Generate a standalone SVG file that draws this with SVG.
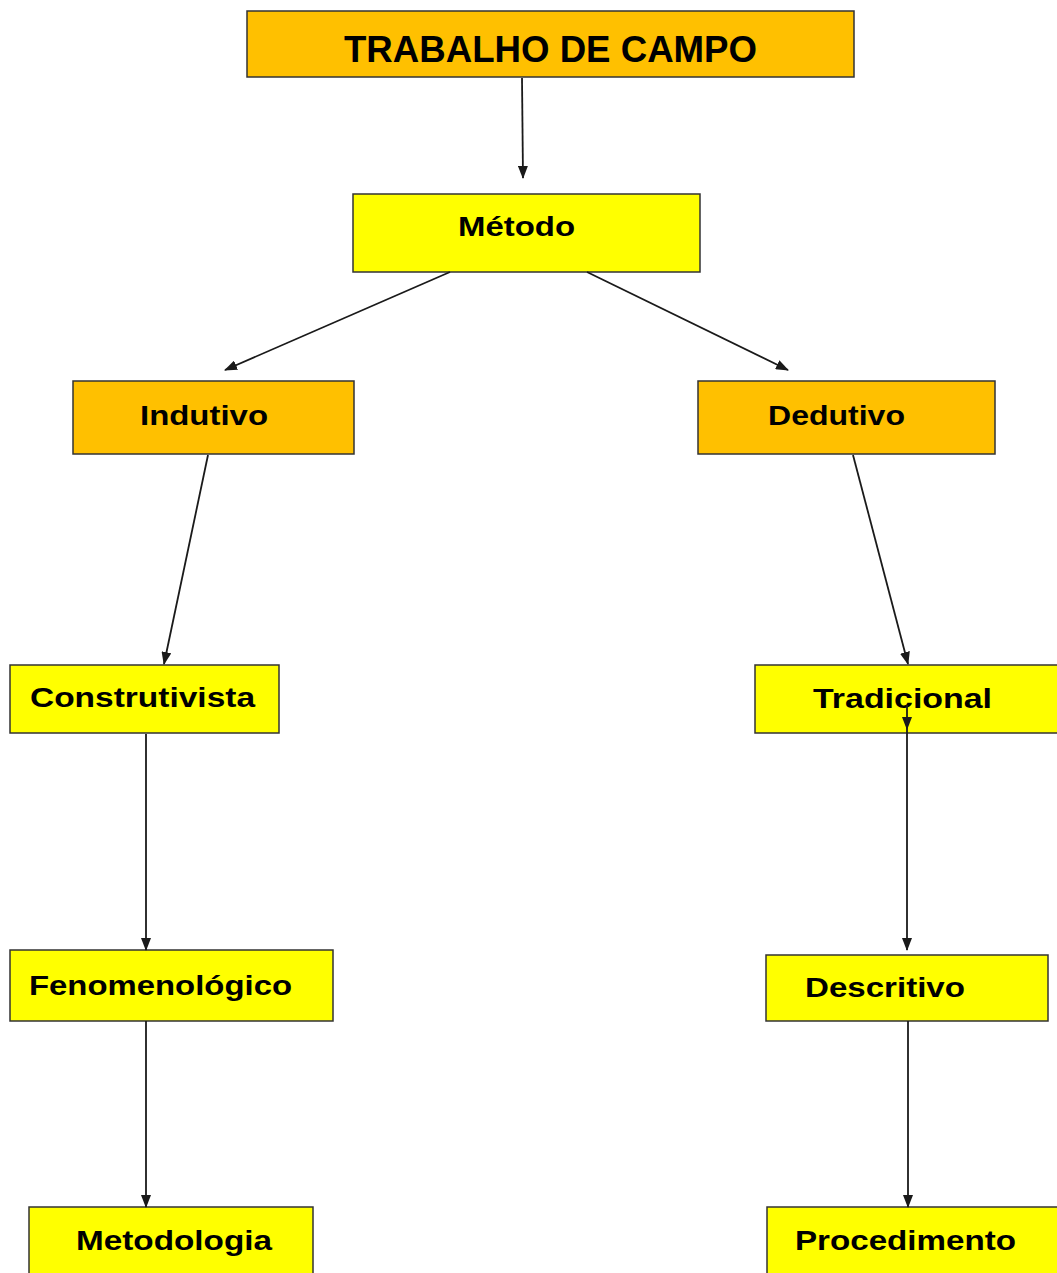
<svg xmlns="http://www.w3.org/2000/svg" width="1057" height="1273" viewBox="0 0 1057 1273">
<style>
.box{stroke:#333;stroke-width:1.5}
.o{fill:#FFC000}
.y{fill:#FFFF00}
.t{font-family:"Liberation Sans",Arial,sans-serif;font-weight:bold;font-size:28px;fill:#000}
.big{font-size:37px}
.c{stroke:#1a1a1a;stroke-width:1.8;fill:none;marker-end:url(#ah)}
</style>
<defs>
<marker id="ah" markerUnits="userSpaceOnUse" markerWidth="13" markerHeight="10" refX="12" refY="5" orient="auto" viewBox="0 0 13 10">
<path d="M0,0 L13,5 L0,10 z" fill="#1a1a1a"/>
</marker>
</defs>
<rect width="1057" height="1273" fill="#fff"/>
<g id="trabalho">
<rect class="box o" x="247" y="11" width="607" height="66"/>
<text class="t big" x="344" y="62" textLength="413" lengthAdjust="spacingAndGlyphs">TRABALHO DE CAMPO</text>
</g>
<g id="metodo">
<rect class="box y" x="353" y="194" width="347" height="78"/>
<text class="t" x="458" y="236" textLength="117" lengthAdjust="spacingAndGlyphs">Método</text>
</g>
<g id="indutivo">
<rect class="box o" x="73" y="381" width="281" height="73"/>
<text class="t" x="140" y="425" textLength="128" lengthAdjust="spacingAndGlyphs">Indutivo</text>
</g>
<g id="dedutivo">
<rect class="box o" x="698" y="381" width="297" height="73"/>
<text class="t" x="768" y="425" textLength="137" lengthAdjust="spacingAndGlyphs">Dedutivo</text>
</g>
<g id="construtivista">
<rect class="box y" x="10" y="665" width="269" height="68"/>
<text class="t" x="30" y="707" textLength="225" lengthAdjust="spacingAndGlyphs">Construtivista</text>
</g>
<g id="tradicional">
<rect class="box y" x="755" y="665" width="310" height="68"/>
<text class="t" x="813" y="708" textLength="179" lengthAdjust="spacingAndGlyphs">Tradicional</text>
</g>
<g id="fenomenologico">
<rect class="box y" x="10" y="950" width="323" height="71"/>
<text class="t" x="29" y="995" textLength="263" lengthAdjust="spacingAndGlyphs">Fenomenológico</text>
</g>
<g id="descritivo">
<rect class="box y" x="766" y="955" width="282" height="66"/>
<text class="t" x="805" y="997" textLength="160" lengthAdjust="spacingAndGlyphs">Descritivo</text>
</g>
<g id="metodologia">
<rect class="box y" x="29" y="1207" width="284" height="80"/>
<text class="t" x="76" y="1250" textLength="196" lengthAdjust="spacingAndGlyphs">Metodologia</text>
</g>
<g id="procedimento">
<rect class="box y" x="767" y="1207" width="300" height="80"/>
<text class="t" x="795" y="1250" textLength="221" lengthAdjust="spacingAndGlyphs">Procedimento</text>
</g>
<g id="connectors">
<path class="c" d="M522,78 L523,178"/>
<path class="c" d="M450,272 L225,370"/>
<path class="c" d="M587,272 L788,370"/>
<path class="c" d="M208,455 L164,664"/>
<path class="c" d="M853,455 L908,664"/>
<path class="c" d="M146,734 L146,950"/>
<path class="c" d="M907,705 L907,729"/>
<path class="c" d="M907,729 L907,950"/>
<path class="c" d="M146,1021 L146,1207"/>
<path class="c" d="M908,1021 L908,1207"/>
</g>
</svg>
